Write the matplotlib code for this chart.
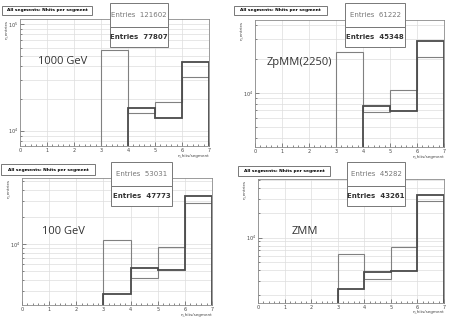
import matplotlib

matplotlib.use("Agg")
import matplotlib.pyplot as plt
import numpy as np
from matplotlib.patches import Rectangle
from matplotlib.ticker import LogLocator, MultipleLocator, NullFormatter, LogFormatterMathtext

# bin edges shared by all four histograms (n_hits/segment 0..7)
edges = np.arange(0, 8)

labels = ["1000 GeV", "ZpMM(2250)", "100 GeV", "ZMM"]
entries_a = [121602, 61222, 53031, 45282]   # grey (first) histogram
entries_b = [77807, 45348, 47773, 43261]    # dark (second) histogram

# bin contents
h1000_a = [0, 0, 0, 57000, 14500, 18500, 31500]
h1000_b = [0, 0, 0, 4000, 16300, 13200, 44000]
hzp_a = [0, 0, 0, 23000, 6800, 10500, 21000]
hzp_b = [0, 0, 0, 1700, 7700, 6900, 29000]
h100_a = [0, 0, 0, 11000, 4200, 9200, 28700]
h100_b = [0, 0, 0, 2800, 5400, 5100, 34500]
hzmm_a = [0, 0, 0, 6400, 3100, 7800, 28000]
hzmm_b = [0, 0, 0, 2400, 3800, 3900, 33200]

hists_a = [h1000_a, hzp_a, h100_a, hzmm_a]
hists_b = [h1000_b, hzp_b, h100_b, hzmm_b]
ylims = [(7200, 111000), (3300, 44300), (2100, 54000), (1600, 52000)]

W, H = 450, 318
# layout in pixels: axes (x0, y0, x1, y1), title box, stats box
ax_px = [(20, 19, 209, 146), (255, 20, 444, 147), (22, 178, 212, 305), (258, 179, 444, 303)]
title_px = [(2, 6, 92, 15), (234, 6, 327, 15), (1, 164, 95, 175), (238, 166, 330, 176)]
stats_px = [(110, 3, 168, 47), (345, 3, 405, 47), (111, 162, 172, 206), (347, 162, 405, 206)]
label_px = [(38, 62), (267, 62), (42, 231), (292, 232)]

GRID = "#dddddd"
FRAME = "#8a8a8a"


def fx(x):
    return x / W


def fy(y):
    return 1 - y / H


def box(fig, rect, **kw):
    x0, y0, x1, y1 = rect
    fig.patches.append(Rectangle((fx(x0), fy(y1)), fx(x1 - x0), (y1 - y0) / H,
                                 transform=fig.transFigure, fc="white",
                                 ec="#777777", lw=0.7, zorder=5, **kw))


fig = plt.figure(figsize=(4.5, 3.18), dpi=100)

for i in range(4):
    x0, y0, x1, y1 = ax_px[i]
    ax = fig.add_axes([fx(x0), fy(y1), fx(x1 - x0), (y1 - y0) / H])
    ax.set_yscale("log")
    ax.set_xlim(0, 7)
    ax.set_ylim(*ylims[i])

    for vals, color, lw in [(hists_a[i], "#808080", 0.8), (hists_b[i], "#4a4a4a", 1.3)]:
        vals = np.asarray(vals, dtype=float)
        nz = np.nonzero(vals)[0]
        first = nz[0]
        ax.stairs(vals[first:], edges[first:], baseline=1, color=color, lw=lw)

    ax.xaxis.set_major_locator(MultipleLocator(1))
    ax.xaxis.set_minor_locator(MultipleLocator(0.2))
    ax.yaxis.set_major_locator(LogLocator(base=10))
    ax.yaxis.set_minor_locator(LogLocator(base=10, subs=np.arange(2, 10)))
    ax.yaxis.set_major_formatter(LogFormatterMathtext())
    ax.yaxis.set_minor_formatter(NullFormatter())
    ax.tick_params(which="both", direction="in", color="#555555", width=0.5,
                   labelsize=3.5, labelcolor="#444444", pad=1.5)
    ax.tick_params(which="major", length=3)
    ax.tick_params(which="minor", length=1.5)
    ax.xaxis.grid(True, which="major", color=GRID, lw=0.5)
    ax.yaxis.grid(True, which="both", color=GRID, lw=0.5)
    ax.set_axisbelow(True)
    for sp in ax.spines.values():
        sp.set_color(FRAME)
        sp.set_linewidth(0.6)

    ax.set_xlabel("n_hits/segment", fontsize=3, color="#444444", labelpad=0)
    ax.xaxis.set_label_coords(1.0, -0.06)
    ax.xaxis.label.set_ha("right")
    # y title drawn as figure text, left of the tick labels, hanging from the top
    fig.text(fx(x0 - 14), fy(y0 + 1), "n_entries", fontsize=3, color="#444444",
             rotation=90, ha="center", va="top")

    lx, ly = label_px[i]
    fig.text(fx(lx), fy(ly), labels[i], fontsize=8, family="Open Sans",
             color="#333333", ha="left", va="center")

    # title box
    box(fig, title_px[i])
    tx0, ty0, tx1, ty1 = title_px[i]
    fig.text(fx((tx0 + tx1) / 2), fy((ty0 + ty1) / 2), "All segments: Nhits per segment",
             fontsize=3.2, fontweight="bold", ha="center", va="center", zorder=6)

    # stats boxes (two stacked)
    sx0, sy0, sx1, sy1 = stats_px[i]
    sm = sy0 + (sy1 - sy0) * 0.55
    box(fig, (sx0, sy0, sx1, sm))
    box(fig, (sx0, sm, sx1, sy1))
    fig.text(fx((sx0 + sx1) / 2), fy((sy0 + sm) / 2), f"Entries  {entries_a[i]}",
             fontsize=5, color="#777777", ha="center", va="center", zorder=6)
    fig.text(fx((sx0 + sx1) / 2), fy((sm + sy1) / 2), f"Entries  {entries_b[i]}",
             fontsize=5, fontweight="bold", color="#333333", ha="center",
             va="center", zorder=6)

fig.savefig("out.png", dpi=100)
